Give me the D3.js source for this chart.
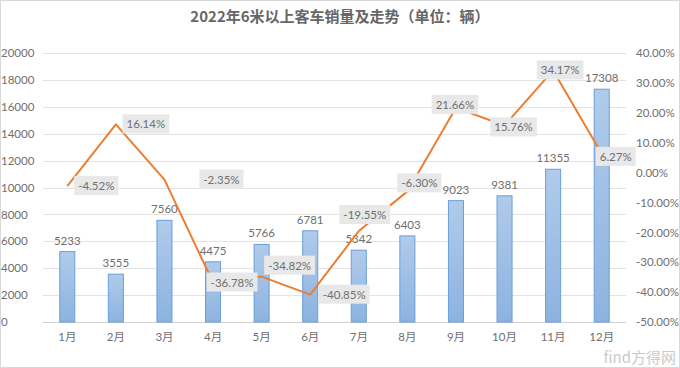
<!DOCTYPE html>
<html><head><meta charset="utf-8">
<script src="https://cdn.jsdelivr.net/npm/d3@7/dist/d3.min.js"></script>
<style>body{margin:0;background:#fff}svg{display:block}</style>
</head><body>
<svg id="c" width="680" height="368"></svg>
<script>
const months = ["1月","2月","3月","4月","5月","6月","7月","8月","9月","10月","11月","12月"];
const sales = [5233,3555,7560,4475,5766,6781,5342,6403,9023,9381,11355,17308];
const growth = [-4.52,16.14,-2.35,-36.78,-34.82,-40.85,-19.55,-6.30,21.66,15.76,34.17,6.27];
const leftTicks = [0,2000,4000,6000,8000,10000,12000,14000,16000,18000,20000];
const rightTicks = [-50,-40,-30,-20,-10,0,10,20,30,40];
const title = "2022年6米以上客车销量及走势（单位：辆）";
// label placement offsets (style)
const labelOffsets = [[29,0],[30,0],[57,0],[19,0],[28,-11],[34,0],[6,-16],[12,-8],[-1,-3],[9,2],[7,0],[14,3]];

const svg = d3.select("#c");
const font = "Lato, 'Noto Sans CJK SC', sans-serif";
const M = {l:43, r:626, t:53, b:322};
const x = d3.scaleBand().domain(months).range([M.l, M.r]).paddingInner(0.67).paddingOuter(0.335);
const yL = d3.scaleLinear().domain([0,20000]).range([M.b, M.t]);
const yR = d3.scaleLinear().domain([-50,40]).range([M.b, M.t]);

svg.append("rect").attr("x",0.5).attr("y",0.5).attr("width",679).attr("height",367).attr("fill","none").attr("stroke","#d9d9d9");

const defs = svg.append("defs");
const g = defs.append("linearGradient").attr("id","bg").attr("x1",0).attr("y1",0).attr("x2",0).attr("y2",1);
g.append("stop").attr("offset","0%").attr("stop-color","#b0cbeb");
g.append("stop").attr("offset","100%").attr("stop-color","#8cb3e0");

// gridlines
svg.append("g").selectAll("line").data(leftTicks).join("line")
  .attr("x1",M.l).attr("x2",M.r).attr("y1",d=>Math.round(yL(d))+0.5).attr("y2",d=>Math.round(yL(d))+0.5)
  .attr("stroke",d=>d===0?"#d0d0d0":"#e3e3e3").attr("stroke-width",1);

// left axis
const la = svg.append("g").attr("transform",`translate(${M.l-6},0)`).call(d3.axisLeft(yL).tickValues(leftTicks).tickSize(0).tickPadding(0).tickFormat(d3.format("d")));
la.select(".domain").remove();
la.selectAll("text").attr("font-family",font).attr("font-size",11.5).attr("fill","#6f6f6f").attr("text-anchor","start").attr("x",-36);

// right axis
const ra = svg.append("g").attr("transform",`translate(${M.r+10},0)`).call(d3.axisRight(yR).tickValues(rightTicks).tickSize(0).tickPadding(0).tickFormat(d=>d.toFixed(2)+"%"));
ra.select(".domain").remove();
ra.selectAll("text").attr("font-family",font).attr("font-size",11.5).attr("fill","#6f6f6f");

// x axis
const xa = svg.append("g").attr("transform",`translate(0,${M.b+9})`).call(d3.axisBottom(x).tickSize(0).tickPadding(0));
xa.select(".domain").remove();
xa.selectAll("text").attr("font-family",font).attr("font-size",11.5).attr("fill","#6f6f6f").attr("dy","0.9em");

// bars
svg.append("g").selectAll("rect").data(sales).join("rect")
  .attr("x",(d,i)=>x(months[i])+0.5).attr("y",d=>yL(d)).attr("width",x.bandwidth()-1).attr("height",d=>yL(0)-yL(d))
  .attr("fill","url(#bg)").attr("stroke","#6a9fd8").attr("stroke-width",1);

svg.append("g").selectAll("text").data(sales).join("text")
  .attr("x",(d,i)=>x(months[i])+x.bandwidth()/2).attr("y",d=>yL(d)-7)
  .attr("text-anchor","middle").attr("font-family",font).attr("font-size",11.5).attr("fill","#6f6f6f").text(d=>d);

// line
const cx = i => x(months[i])+x.bandwidth()/2;
svg.append("path").datum(growth)
  .attr("d", d3.line().x((d,i)=>cx(i)).y(d=>yR(d)))
  .attr("fill","none").attr("stroke","#ed7d31").attr("stroke-width",2).attr("stroke-linejoin","round");

// percent labels
const pl = svg.append("g").selectAll("g").data(growth).join("g")
  .attr("transform",(d,i)=>`translate(${cx(i)+labelOffsets[i][0]},${yR(d)+labelOffsets[i][1]})`);
pl.append("text").attr("text-anchor","middle").attr("dy","0.35em")
  .attr("font-family",font).attr("font-size",11.5).attr("fill","#6f6f6f")
  .text(d=>d.toFixed(2)+"%");
pl.each(function(){
  const t = d3.select(this).select("text").node().getBBox();
  d3.select(this).insert("rect","text").attr("x",t.x-4).attr("y",t.y-3).attr("width",t.width+8).attr("height",t.height+6).attr("fill","#e8e8e8");
});

// title
svg.append("text").attr("x",340).attr("y",22).attr("text-anchor","middle")
  .attr("font-family","'Noto Sans CJK SC', sans-serif").attr("font-weight","bold").attr("font-size",15).attr("fill","#666").text(title);

// watermark
svg.append("text").attr("x",676).attr("y",363).attr("text-anchor","end")
  .attr("font-family","'Noto Sans CJK SC', sans-serif").attr("font-size",15).attr("fill","#bdbdbd").attr("opacity",0.8).text("find方得网");
</script>
</body></html>
